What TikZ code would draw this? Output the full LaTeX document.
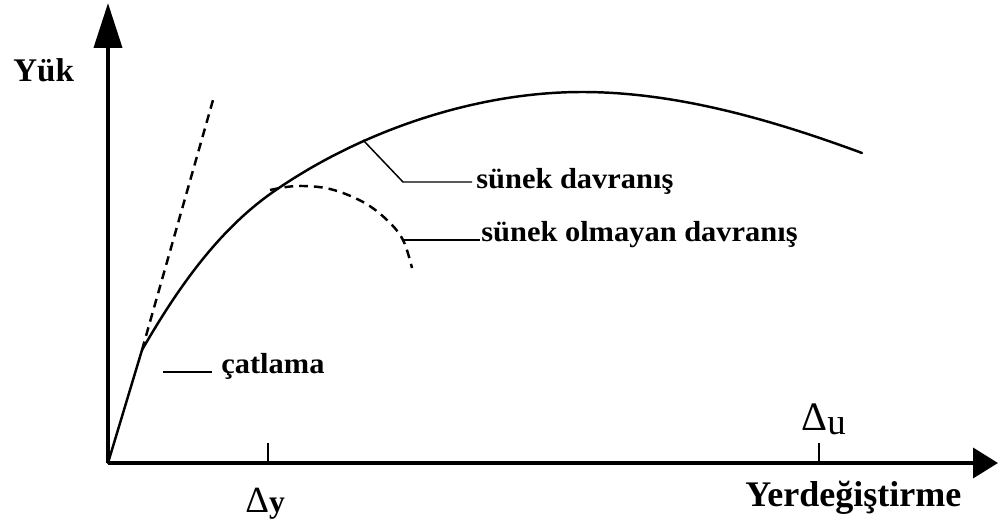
\documentclass[tikz,border=0pt]{standalone}
\usepackage{fontspec}
\setmainfont{Liberation Serif}
\newfontfamily\lblfont[FakeStretch=1.05]{Liberation Serif}
\usetikzlibrary{arrows.meta}
\tikzset{
  axis/.style={line width=2.3pt},
  curve/.style={line width=1.4pt, line cap=round, line join=round},
  dashcurve/.style={line width=1.4pt, dash pattern=on 5pt off 3.4pt},
  leader/.style={line width=0.85pt},
  tick/.style={line width=1.2pt},
  lbl/.style={inner sep=0pt, font=\lblfont\bfseries\fontsize{16.5pt}{18pt}\selectfont},
  axlbl/.style={inner sep=0pt, font=\bfseries\fontsize{18.8pt}{20pt}\selectfont},
}
\begin{document}
\begin{tikzpicture}[x=0.02cm, y=-0.02cm]
\path[use as bounding box] (0,0) rectangle (1001,524);
% axes
\coordinate (O) at (108,463);
\coordinate (ytip) at (108,3);
\coordinate (xtip) at (998,463);
\draw[axis, -{Triangle[length=25.6pt, width=15.9pt]}] (O) -- (ytip);
\draw[axis, -{Triangle[length=14.2pt, width=17pt]}] (O) -- (xtip);
% ticks
\coordinate (ty) at (268,463);
\coordinate (tyt) at (268,443);
\coordinate (tu) at (819,463);
\coordinate (tut) at (819,443);
\draw[tick] (ty) -- (tyt);
\draw[tick] (tu) -- (tut);
% initial tangent (dashed)
\coordinate (crack) at (142,350);
\coordinate (tanend) at (213,100);
\draw[dashcurve] (crack) -- (tanend);
% main ductile curve
\coordinate (yield) at (273,192);
\coordinate (peak) at (582,92);
\coordinate (cend) at (862,153);
\draw[curve] (O) -- (crack)
  .. controls (176,291) and (217,231) .. (yield)
  .. controls (359,132) and (474,92) .. (peak)
  .. controls (675,92) and (770,119) .. (cend);
% non-ductile dashed curve
\draw[dashcurve] plot[smooth, tension=0.6] coordinates {(270,190) (297,186) (330,189) (363,202) (387,220) (403,240) (412,268)};
% labels
\node[axlbl, anchor=base west] (yuk) at (13,81) {Yük};
\node[inner sep=0pt, anchor=base west, font=\bfseries\fontsize{20.5pt}{22pt}\selectfont] (yer) at (745,506) {Yerdeğiştirme};
\node[lbl, anchor=base west] (sd) at (476,188) {sünek davranış};
\node[lbl, anchor=base west] (sod) at (481,241) {sünek olmayan davranış};
\node[lbl, anchor=base west] (cat) at (221,373) {çatlama};
\node[inner sep=0pt, anchor=base west, font=\fontsize{21pt}{22pt}\selectfont] (dy) at (245,512) {Δ\textbf{\fontsize{18pt}{20pt}\selectfont y}};
\node[inner sep=0pt, anchor=base west, font=\fontsize{23pt}{24pt}\selectfont] (du) at (801,430) {Δ\raisebox{-2.5pt}{\fontsize{21pt}{22pt}\selectfont u}};
% leaders
\coordinate (sdA) at (363,140);
\coordinate (sdB) at (403,182);
\coordinate (sdC) at (472,182);
\draw[leader] (sdA) -- (sdB) -- (sdC);
\coordinate (sodA) at (403,240);
\coordinate (sodB) at (480,240);
\draw[leader] (sodA) -- (sodB);
\coordinate (catA) at (163,372);
\coordinate (catB) at (212,372);
\draw[leader] (catA) -- (catB);
\end{tikzpicture}
\end{document}
